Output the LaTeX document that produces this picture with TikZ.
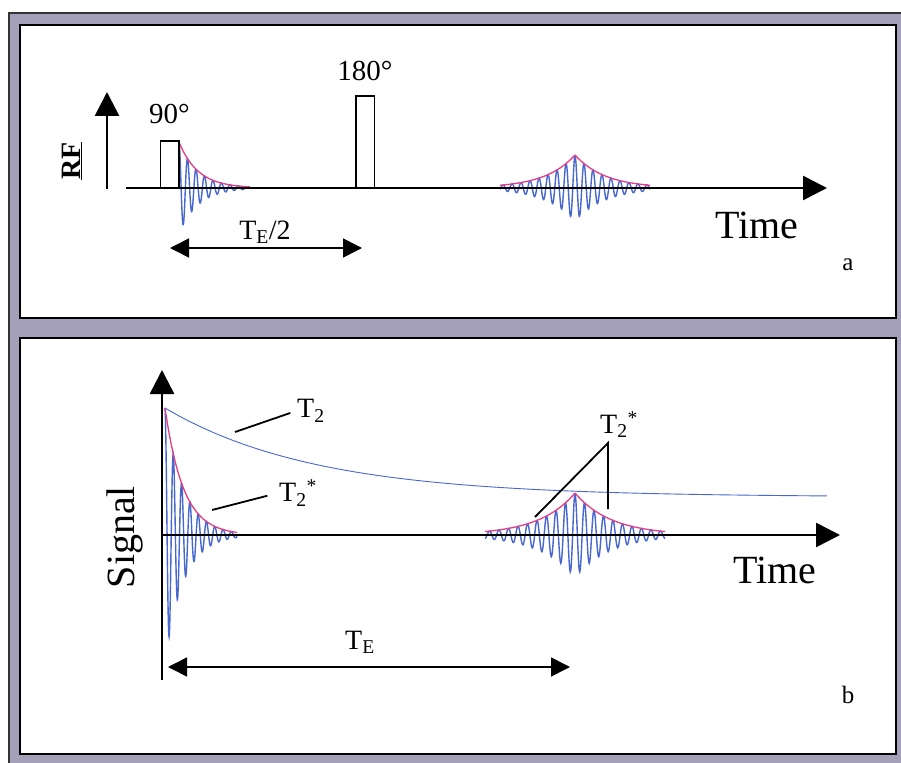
\documentclass[tikz,border=0pt]{standalone}
\usepackage{fontspec}
\setmainfont{Liberation Serif}
\usepackage{tikz}
\usetikzlibrary{positioning}
\usetikzlibrary{calc}
\usetikzlibrary{arrows.meta}

\definecolor{framegray}{RGB}{164,160,186}
\definecolor{sigblue}{RGB}{72,104,208}
\definecolor{envpink}{RGB}{230,62,132}

\tikzset{
  panel/.style={draw=black, line width=2pt, fill=white},
  axis/.style={line width=2.6pt, -{Triangle[length=24pt,width=24pt]}},
  span/.style={line width=1.6pt, {Triangle[length=19pt,width=19pt]}-{Triangle[length=19pt,width=19pt]}},
  pulse/.style={draw, line width=1.5pt, minimum width=18.5pt, inner sep=0pt, anchor=south},
  leader/.style={line width=1.8pt},
  wave/.style={sigblue, line width=1.4pt},
  envelope/.style={envpink, line width=1.3pt},
  lab/.style={inner sep=1pt, font=\fontsize{29}{33}\selectfont},
  tlab/.style={inner sep=1pt, font=\fontsize{28}{32}\selectfont},
  biglab/.style={inner sep=1pt, font=\fontsize{40}{46}\selectfont},
  taglab/.style={inner sep=1pt, font=\fontsize{25}{29}\selectfont},
}

\begin{document}
\begin{tikzpicture}[x=1pt, y=-1pt]
  \useasboundingbox (0,0) rectangle (901,762);
  \draw[fill=framegray, draw=black!80, line width=1.6pt] (9,13) rectangle (912,775);
  \draw[panel] (20,25) rectangle (896,318);
  \draw[panel] (20,338) rectangle (896,754);

  % panel a: RF pulses
  \coordinate (fidA) at (179,188);
  \coordinate (echoA) at (575,188);
  \draw[wave, shift={(fidA)}] plot[domain=0:71, samples=300] ({\x},{-46*exp(-\x/19)*cos((360/8.5)*\x)});
  \draw[envelope, shift={(fidA)}] plot[domain=0:71, samples=60] ({\x},{-46*exp(-\x/19)});
  \draw[wave, shift={(echoA)}] plot[domain=-75:75, samples=400] ({\x},{-33*exp(-abs(\x)/30)*cos((360/9)*\x)});
  \draw[envelope, shift={(echoA)}] plot[domain=-75:0, samples=50] ({\x},{-33*exp(\x/30)});
  \draw[envelope, shift={(echoA)}] plot[domain=0:75, samples=50] ({\x},{-33*exp(-\x/30)});

  \coordinate (a-orig) at (126,188);
  \coordinate (a-end) at (827,188);
  \coordinate (rf-bot) at (107,189);
  \coordinate (rf-top) at (107,92);
  \draw[axis] (a-orig) -- (a-end);
  \draw[axis] (rf-bot) -- (rf-top);

  \node[pulse, minimum height=46pt] (p90) at (169.5,188) {};
  \node[pulse, minimum height=91pt] (p180) at (365,188) {};
  \node[lab, above=16pt of p90] (l90) {90°};
  \node[lab, above=14pt of p180] (l180) {180°};
  \node[lab, rotate=90, font=\fontsize{28}{32}\selectfont\bfseries] (rf) at (72,161) {\underline{RF}};

  \node[lab, font=\fontsize{28}{32}\selectfont] (tehalf) at (265,232) {T\textsubscript{E}/2};
  \coordinate (tehalf-l) at (170,248);
  \coordinate (tehalf-r) at (362,248);
  \draw[span] (tehalf-l) -- (tehalf-r);

  \node[biglab] (timeA) at (757,225) {Time};
  \node[taglab] (tagA) at (848,265) {a};

  % panel b: signal
  \coordinate (fidB) at (165,535);
  \coordinate (echoB) at (575,535);
  \coordinate (t2start) at (165,497);
  \draw[sigblue, line width=0.9pt, shift={(t2start)}] plot[domain=0:662, samples=120] ({\x},{-89*exp(-\x/150)});
  \draw[wave, shift={(fidB)}] plot[domain=0:72, samples=300] ({\x},{-127*exp(-\x/18.5)*cos((360/8.3)*\x)});
  \draw[envelope, shift={(fidB)}] plot[domain=0:72, samples=60] ({\x},{-127*exp(-\x/18.5)});
  \draw[wave, shift={(echoB)}] plot[domain=-90:90, samples=400] ({\x},{-42*exp(-abs(\x)/36)*cos((360/9.5)*\x)});
  \draw[envelope, shift={(echoB)}] plot[domain=-90:0, samples=50] ({\x},{-42*exp(\x/36)});
  \draw[envelope, shift={(echoB)}] plot[domain=0:90, samples=50] ({\x},{-42*exp(-\x/36)});

  \coordinate (b-orig) at (162,535);
  \coordinate (b-bot) at (162,680);
  \coordinate (b-top) at (162,370);
  \coordinate (b-end) at (840,535);
  \draw[axis] (b-orig) -- (b-end);
  \draw[axis] (b-bot) -- (b-top);

  \node[biglab, rotate=90] (signal) at (125,537) {Signal};
  \node[biglab] (timeB) at (775,570) {Time};
  \node[taglab] (tagB) at (848,695) {b};

  \coordinate (t2foot) at (235,432);
  \node[tlab, anchor=west] (t2lab) at (296,411) {T\textsubscript{2}};
  \draw[leader, shorten >=6pt] (t2foot) -- (t2lab.west);

  \coordinate (t2sfoot) at (212,510);
  \node[tlab, anchor=west] (t2slab) at (278,493) {T\textsubscript{2}\textsuperscript{*}};
  \draw[leader, shorten >=11pt] (t2sfoot) -- (t2slab.west);

  \coordinate (vtx) at (608,443);
  \coordinate (leg-l) at (535,517);
  \coordinate (leg-r) at (608,509);
  \draw[leader] (leg-l) -- (vtx) -- (leg-r);
  \node[tlab, above=4pt of vtx, xshift=11pt] (t2slab2) {T\textsubscript{2}\textsuperscript{*}};

  \node[lab, font=\fontsize{28}{32}\selectfont] (te) at (360,642) {T\textsubscript{E}};
  \coordinate (te-l) at (168,667);
  \coordinate (te-r) at (570,667);
  \draw[span] (te-l) -- (te-r);
\end{tikzpicture}
\end{document}
